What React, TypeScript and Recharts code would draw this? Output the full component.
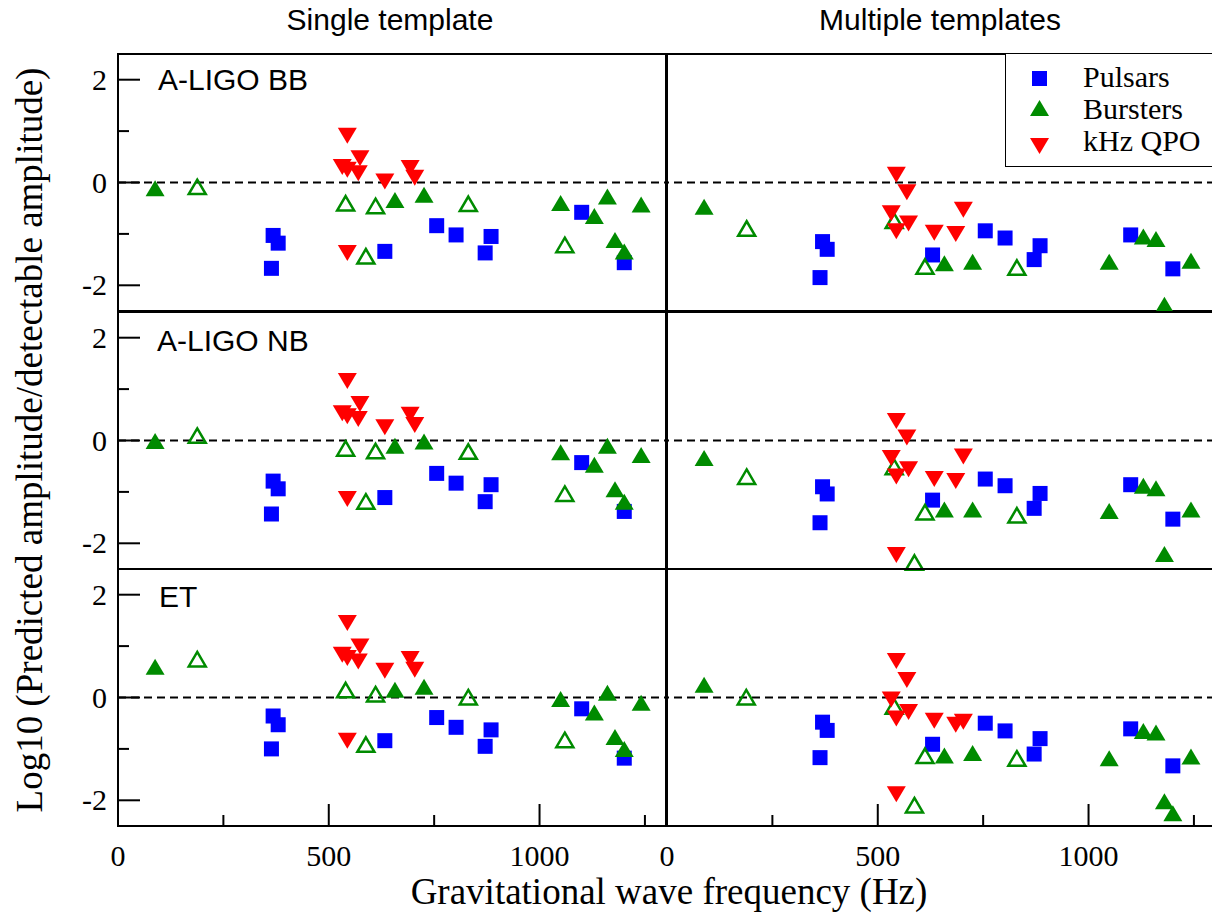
import React from 'react'
import { Legend, ReferenceArea, ReferenceLine, Scatter, ScatterChart, XAxis, YAxis } from 'recharts'

const BLUE = '#0000ff'
const GREEN = '#008b00'
const RED = '#ff0000'
const SERIF = '"Liberation Serif", "Times New Roman", serif'
const SANS = '"Liberation Sans", Arial, sans-serif'

const X_TICKS = [0, 250, 500, 750, 1000, 1250]
const Y_TICKS = [-2, -1, 0, 1, 2]
const X_DOMAIN: [number, number] = [0, 1300]
const Y_DOMAIN: [number, number] = [-2.5, 2.5]

type Pt = [number, number] // [frequency Hz, log10 ratio]

// A-LIGO broadband, single template
const bbSinglePulsars: Pt[] = [[368, -1.03], [380, -1.18], [364, -1.67], [633, -1.34], [756, -0.84], [802, -1.02], [885, -1.05], [871, -1.37], [1100, -0.58], [1201, -1.56]]
const bbSingleBurst: Pt[] = [[88, -0.11], [657, -0.34], [726, -0.24], [1050, -0.4], [1161, -0.27], [1130, -0.65], [1241, -0.43], [1179, -1.12], [1201, -1.34]]
const bbSingleBurstOpen: Pt[] = [[188, -0.08], [540, -0.4], [611, -0.45], [588, -1.43], [831, -0.41], [1060, -1.21]]
const bbSingleQpo: Pt[] = [[544, 0.91], [532, 0.3], [544, 0.25], [574, 0.47], [570, 0.18], [633, 0.02], [693, 0.28], [704, 0.09], [544, -1.37]]

// A-LIGO broadband, multiple templates
const bbMultiPulsars: Pt[] = [[369, -1.15], [380, -1.3], [363, -1.85], [630, -1.41], [755, -0.94], [802, -1.08], [885, -1.23], [871, -1.5], [1100, -1.02], [1200, -1.68]]
const bbMultiBurst: Pt[] = [[88, -0.47], [658, -1.57], [725, -1.54], [1049, -1.54], [1130, -1.05], [1160, -1.1], [1243, -1.52], [1180, -2.38]]
const bbMultiBurstOpen: Pt[] = [[189, -0.89], [539, -0.74], [612, -1.63], [830, -1.65]]
const bbMultiQpo: Pt[] = [[544, 0.15], [569, -0.19], [532, -0.6], [544, -0.95], [573, -0.8], [634, -0.98], [703, -0.53], [685, -1.0]]

// A-LIGO narrowband, single template
const nbSinglePulsars: Pt[] = [[368, -0.79], [380, -0.94], [364, -1.43], [633, -1.11], [756, -0.64], [802, -0.83], [885, -0.86], [871, -1.19], [1100, -0.43], [1201, -1.38]]
const nbSingleBurst: Pt[] = [[88, -0.01], [657, -0.1], [726, -0.02], [1050, -0.23], [1161, -0.1], [1130, -0.47], [1241, -0.28], [1179, -0.95], [1201, -1.19]]
const nbSingleBurstOpen: Pt[] = [[188, 0.1], [540, -0.15], [611, -0.2], [588, -1.18], [831, -0.21], [1060, -1.03]]
const nbSingleQpo: Pt[] = [[544, 1.16], [532, 0.53], [544, 0.47], [574, 0.71], [570, 0.42], [633, 0.26], [693, 0.5], [704, 0.3], [544, -1.14]]

// A-LIGO narrowband, multiple templates
const nbMultiPulsars: Pt[] = [[369, -0.9], [380, -1.04], [363, -1.6], [630, -1.16], [755, -0.75], [802, -0.88], [885, -1.03], [871, -1.32], [1100, -0.86], [1200, -1.53]]
const nbMultiBurst: Pt[] = [[88, -0.34], [658, -1.34], [725, -1.34], [1049, -1.37], [1130, -0.88], [1160, -0.93], [1243, -1.34], [1180, -2.21]]
const nbMultiBurstOpen: Pt[] = [[189, -0.7], [539, -0.51], [612, -1.39], [587, -2.37], [830, -1.45]]
const nbMultiQpo: Pt[] = [[544, 0.38], [569, 0.06], [532, -0.34], [544, -0.7], [573, -0.56], [634, -0.75], [703, -0.31], [685, -0.79], [544, -2.23]]

// Einstein Telescope, single template
const etSinglePulsars: Pt[] = [[368, -0.36], [380, -0.53], [364, -1.0], [633, -0.84], [756, -0.39], [802, -0.58], [885, -0.63], [871, -0.95], [1100, -0.22], [1201, -1.18]]
const etSingleBurst: Pt[] = [[88, 0.6], [657, 0.15], [726, 0.21], [1050, -0.03], [1161, 0.09], [1130, -0.29], [1241, -0.1], [1179, -0.77], [1201, -1.0]]
const etSingleBurstOpen: Pt[] = [[188, 0.75], [540, 0.15], [611, 0.07], [588, -0.91], [831, 0.01], [1060, -0.82]]
const etSingleQpo: Pt[] = [[544, 1.45], [532, 0.83], [544, 0.77], [574, 0.99], [570, 0.7], [633, 0.52], [693, 0.75], [704, 0.54], [544, -0.84]]

// Einstein Telescope, multiple templates
const etMultiPulsars: Pt[] = [[369, -0.48], [380, -0.64], [363, -1.17], [630, -0.91], [755, -0.5], [802, -0.65], [885, -0.8], [871, -1.1], [1100, -0.61], [1200, -1.33]]
const etMultiBurst: Pt[] = [[88, 0.25], [658, -1.13], [725, -1.08], [1049, -1.18], [1130, -0.65], [1160, -0.68], [1243, -1.15], [1180, -2.02], [1200, -2.25]]
const etMultiBurstOpen: Pt[] = [[188, 0.01], [539, -0.17], [612, -1.13], [587, -2.09], [830, -1.18]]
const etMultiQpo: Pt[] = [[544, 0.71], [569, 0.34], [532, -0.04], [544, -0.41], [573, -0.28], [634, -0.45], [703, -0.47], [685, -0.53], [544, -1.88]]

const LEGEND_ITEMS = ['Pulsars', 'Bursters', 'kHz QPO']

const toRows = (pts: Pt[]) => pts.map(([f, v]) => ({ f, v }))

// plot geometry
const PW = 548
const PH = 257
const YW = 118
const ROW_TOPS = [54, 312, 569]
const RIGHT_LEFT = 667

const Square = (p: any) => <rect x={p.cx - 7.5} y={p.cy - 7.5} width={15} height={15} fill={BLUE} />
const TriUp = (p: any) => (
  <path d={`M${p.cx},${p.cy - 8}L${p.cx + 9.5},${p.cy + 8}L${p.cx - 9.5},${p.cy + 8}Z`} fill={GREEN} />
)
const TriUpOpen = (p: any) => (
  <path d={`M${p.cx},${p.cy - 7}L${p.cx + 8.5},${p.cy + 7.5}L${p.cx - 8.5},${p.cy + 7.5}Z`} fill="none" stroke={GREEN} strokeWidth={2.5} />
)
const TriDown = (p: any) => (
  <path d={`M${p.cx - 9.5},${p.cy - 8}L${p.cx + 9.5},${p.cy - 8}L${p.cx},${p.cy + 8}Z`} fill={RED} />
)

function XTick(props: any) {
  const { x, y, payload, showLabel } = props
  const major = payload.value % 500 === 0
  return (
    <g>
      <line x1={x} x2={x} y1={y} y2={y - (major ? 22 : 11)} stroke="#000" strokeWidth={2} />
      {showLabel && major && (
        <text x={x} y={y + 40} textAnchor="middle" fontFamily={SERIF} fontSize={30} fill="#000">
          {payload.value}
        </text>
      )}
    </g>
  )
}

function YTick(props: any) {
  const { x, y, payload, side } = props
  const major = payload.value % 2 === 0
  const dir = side === 'left' ? 1 : -1
  return (
    <g>
      <line x1={x} x2={x + dir * (major ? 22 : 11)} y1={y} y2={y} stroke="#000" strokeWidth={2} />
      {side === 'left' && major && (
        <text x={x - 11} y={y + 10} textAnchor="end" fontFamily={SERIF} fontSize={30} fill="#000">
          {String(payload.value)}
        </text>
      )}
    </g>
  )
}

function LegendBox() {
  const marks = [
    <rect key="s" x={26} y={17} width={15} height={15} fill={BLUE} />,
    <path key="u" d="M33.5,46L43,62L24,62Z" fill={GREEN} />,
    <path key="d" d="M24,84L43,84L33.5,100Z" fill={RED} />,
  ]
  return (
    <div style={{ width: 230, height: 114, border: '1.5px solid #000', background: '#fff', boxSizing: 'border-box' }}>
      <svg width={228} height={112}>
        {marks}
        {LEGEND_ITEMS.map((t, i) => (
          <text key={t} x={77} y={33 + i * 32} fontFamily={SERIF} fontSize={30} fill="#000">
            {t}
          </text>
        ))}
      </svg>
    </div>
  )
}

type PanelProps = {
  side: 'left' | 'right'
  row: number
  pulsars: Pt[]
  burst: Pt[]
  burstOpen: Pt[]
  qpo: Pt[]
  legend?: boolean
}

function Panel({ side, row, pulsars, burst, burstOpen, qpo, legend }: PanelProps) {
  const bottom = row === 2
  const xH = bottom ? 60 : 0
  const width = side === 'left' ? YW + PW : PW
  return (
    <div style={{ position: 'absolute', left: side === 'left' ? 0 : RIGHT_LEFT, top: ROW_TOPS[row] }}>
      <ScatterChart width={width} height={PH + xH} margin={{ top: 0, right: 0, bottom: 0, left: 0 }}>
        <XAxis
          type="number" dataKey="f" domain={X_DOMAIN} ticks={X_TICKS} interval={0} height={xH}
          axisLine={false} tickLine={false} tickSize={0} tickMargin={0}
          tick={(p: any) => <XTick {...p} showLabel={bottom} />}
        />
        <YAxis
          type="number" dataKey="v" domain={Y_DOMAIN} ticks={Y_TICKS} interval={0}
          orientation={side} width={side === 'left' ? YW : 0}
          axisLine={false} tickLine={false} tickSize={0} tickMargin={0}
          tick={(p: any) => <YTick {...p} side={side} />}
        />
        <ReferenceArea x1={0} x2={1300} y1={-2.5} y2={2.5} fill="none" fillOpacity={0} stroke="#000" strokeWidth={2} />
        <ReferenceLine y={0} stroke="#000" strokeWidth={2} strokeDasharray="8 5" />
        <Scatter data={toRows(pulsars)} shape={Square} isAnimationActive={false} />
        <Scatter data={toRows(burst)} shape={TriUp} isAnimationActive={false} />
        <Scatter data={toRows(burstOpen)} shape={TriUpOpen} isAnimationActive={false} />
        <Scatter data={toRows(qpo)} shape={TriDown} isAnimationActive={false} />
        {legend && (
          <Legend
            layout="horizontal" verticalAlign="middle" align="center"
            content={() => <LegendBox />}
            wrapperStyle={{ left: 338, top: -1, width: 230, height: 114 }}
          />
        )}
      </ScatterChart>
    </div>
  )
}

export default function App() {
  return (
    <div style={{ position: 'absolute', left: 0, top: 0, width: 1212, height: 922, overflow: 'hidden', background: '#fff' }}>
      <style>{`.recharts-surface{overflow:visible}`}</style>
      <Panel side="left" row={0} pulsars={bbSinglePulsars} burst={bbSingleBurst} burstOpen={bbSingleBurstOpen} qpo={bbSingleQpo} />
      <Panel side="right" row={0} pulsars={bbMultiPulsars} burst={bbMultiBurst} burstOpen={bbMultiBurstOpen} qpo={bbMultiQpo} legend />
      <Panel side="left" row={1} pulsars={nbSinglePulsars} burst={nbSingleBurst} burstOpen={nbSingleBurstOpen} qpo={nbSingleQpo} />
      <Panel side="right" row={1} pulsars={nbMultiPulsars} burst={nbMultiBurst} burstOpen={nbMultiBurstOpen} qpo={nbMultiQpo} />
      <Panel side="left" row={2} pulsars={etSinglePulsars} burst={etSingleBurst} burstOpen={etSingleBurstOpen} qpo={etSingleQpo} />
      <Panel side="right" row={2} pulsars={etMultiPulsars} burst={etMultiBurst} burstOpen={etMultiBurstOpen} qpo={etMultiQpo} />
      <svg width={1212} height={922} style={{ position: 'absolute', left: 0, top: 0, pointerEvents: 'none' }}>
        <text x={390} y={30} textAnchor="middle" fontFamily={SANS} fontSize={30}>Single template</text>
        <text x={940} y={30} textAnchor="middle" fontFamily={SANS} fontSize={30}>Multiple templates</text>
        <text x={158} y={90} fontFamily={SANS} fontSize={30}>A-LIGO BB</text>
        <text x={157} y={351} fontFamily={SANS} fontSize={30}>A-LIGO NB</text>
        <text x={159} y={607} fontFamily={SANS} fontSize={30}>ET</text>
        <text transform="translate(42,440) rotate(-90)" textAnchor="middle" fontFamily={SERIF} fontSize={37}>
          Log10 (Predicted amplitude/detectable amplitude)
        </text>
        <text x={669} y={904} textAnchor="middle" fontFamily={SERIF} fontSize={37}>
          Gravitational wave frequency (Hz)
        </text>
      </svg>
    </div>
  )
}
